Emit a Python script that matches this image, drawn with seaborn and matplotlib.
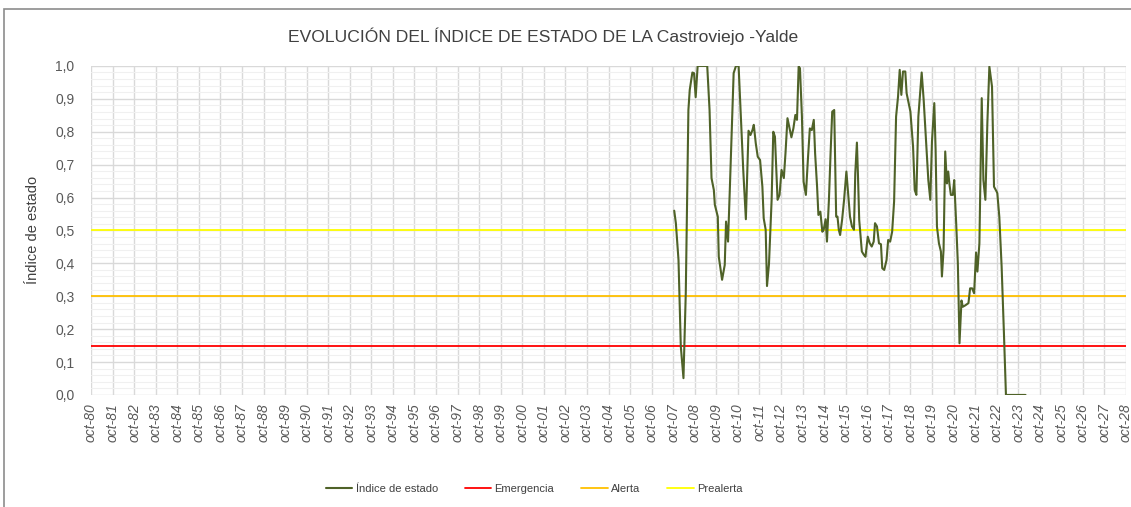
import matplotlib
matplotlib.use('Agg')
import matplotlib.pyplot as plt
import pandas as pd
import seaborn as sns
from matplotlib.patches import Rectangle
from matplotlib.ticker import FuncFormatter, MultipleLocator

# fecha en años decimales (oct-07 = 2007.75) e índice de estado
fechas = [
    2007.796, 2007.873, 2007.995, 2008.102, 2008.225, 2008.332, 2008.454, 2008.516,
    2008.638, 2008.715, 2008.791, 2008.883, 2009.327, 2009.435, 2009.526, 2009.634,
    2009.680, 2009.817, 2009.863, 2010.016, 2010.139, 2010.200, 2010.292, 2010.369,
    2010.552, 2010.660, 2010.782, 2010.905, 2010.997, 2011.119, 2011.242, 2011.333,
    2011.425, 2011.487, 2011.578, 2011.670, 2011.778, 2011.885, 2011.946, 2012.038,
    2012.099, 2012.191, 2012.314, 2012.390, 2012.467, 2012.589, 2012.681, 2012.773,
    2012.880, 2012.957, 2013.049,
    2013.231, 2013.323, 2013.414, 2013.490, 2013.567, 2013.628, 2013.719, 2013.796,
    2013.903, 2013.994, 2014.086, 2014.177, 2014.269, 2014.330, 2014.422, 2014.483,
    2014.574, 2014.666, 2014.727, 2014.819, 2014.880, 2014.971, 2015.048, 2015.124,
    2015.216, 2015.307, 2015.368, 2015.429, 2015.490, 2015.582, 2015.674, 2015.781,
    2015.857, 2015.948, 2016.040, 2016.132, 2016.193, 2016.269, 2016.315, 2016.376,
    2016.498, 2016.590, 2016.666, 2016.773, 2016.865, 2016.956, 2017.048, 2017.109,
    2017.200, 2017.292, 2017.384, 2017.445, 2017.536, 2017.643, 2017.719, 2017.811,
    2017.903, 2017.994, 2018.086, 2018.177, 2018.254, 2018.330, 2018.406, 2018.513,
    2018.574,
    2018.750, 2018.873, 2018.950, 2019.027, 2019.119, 2019.273, 2019.365, 2019.488,
    2019.581, 2019.673, 2019.750, 2019.858, 2019.919, 2019.981, 2020.073, 2020.165,
    2020.212, 2020.288, 2020.365, 2020.442, 2020.504, 2020.565, 2020.627, 2020.719,
    2020.781, 2020.873, 2020.950, 2021.027, 2021.119, 2021.181, 2021.288, 2021.442,
    2021.519, 2021.612, 2021.704, 2021.796, 2021.858, 2021.950, 2022.058, 2022.135,
    2022.227, 2022.319, 2022.412, 2022.535, 2022.627, 2022.750, 2022.781, 2022.873,
    2022.981, 2023.088, 2023.181, 2024.088,
]
indice = [
    0.560, 0.522, 0.410, 0.147, 0.051, 0.309, 0.866, 0.927,
    0.980, 0.978, 0.905, 1.000, 1.000, 0.866, 0.659, 0.623,
    0.578, 0.542, 0.420, 0.350, 0.395, 0.527, 0.466, 0.613,
    0.978, 1.000, 1.000, 0.816, 0.684, 0.534, 0.803, 0.790,
    0.805, 0.821, 0.765, 0.724, 0.714, 0.633, 0.537, 0.502,
    0.331, 0.398, 0.593, 0.800, 0.785, 0.593, 0.608, 0.684,
    0.659, 0.735, 0.841,
    0.783, 0.810, 0.851, 0.836, 0.998, 0.993, 0.846, 0.648,
    0.608, 0.714, 0.810, 0.805, 0.836, 0.735, 0.633, 0.547,
    0.557, 0.496, 0.502, 0.534, 0.466, 0.593, 0.735, 0.861,
    0.866, 0.542, 0.542, 0.502, 0.486, 0.532, 0.593, 0.679,
    0.618, 0.542, 0.512, 0.502, 0.674, 0.767, 0.674, 0.532,
    0.436, 0.426, 0.420, 0.481, 0.461, 0.451, 0.466, 0.522,
    0.512, 0.461, 0.458, 0.385, 0.380, 0.410, 0.471, 0.466,
    0.496, 0.588, 0.846, 0.907, 0.988, 0.912, 0.983, 0.983,
    0.917,
    0.861, 0.755, 0.623, 0.608, 0.846, 0.980, 0.897, 0.755,
    0.653, 0.593, 0.770, 0.887, 0.745, 0.512, 0.461, 0.436,
    0.360, 0.441, 0.740, 0.643, 0.679, 0.638, 0.608, 0.608,
    0.653, 0.522, 0.400, 0.157, 0.287, 0.268, 0.272, 0.279,
    0.324, 0.324, 0.309, 0.433, 0.375, 0.461, 0.902, 0.653,
    0.593, 0.826, 0.998, 0.937, 0.633, 0.618, 0.613, 0.542,
    0.390, 0.187, 0.000, 0.000,
]

umbrales = ['Emergencia', 'Alerta', 'Prealerta']
valores_umbral = [0.15, 0.30, 0.50]
colores_umbral = ['#FF0000', '#FFC000', '#FFFF00']

anios = list(range(1980, 2029))
etiquetas_x = ['oct-' + str(a)[-2:] for a in anios]

df = pd.DataFrame({'fecha': fechas, 'indice': indice})

sns.set_style('white')
plt.rcParams['font.family'] = ['Liberation Sans', 'DejaVu Sans']

fig = plt.figure(figsize=(11.31, 5.07), dpi=100)
ax = fig.add_axes([0.0805, 0.221, 0.9151, 0.649])

# marco del gráfico
fig.patches.append(Rectangle((0.0035, -0.2), 1.2, 1.182, transform=fig.transFigure,
                             fill=False, edgecolor='#8c8c8c', lw=1.2))

sns.lineplot(data=df, x='fecha', y='indice', ax=ax, color='#4F6228', lw=1.5,
             label='Índice de estado', zorder=4)
for nombre, v, c in zip(umbrales, valores_umbral, colores_umbral):
    ax.axhline(v, color=c, lw=1.3, label=nombre, zorder=3)

ax.set_xlim(1980.75, 2028.75)
ax.set_ylim(0, 1.0)
ax.set_xticks([a + 0.75 for a in anios])
ax.set_xticklabels(etiquetas_x, rotation=90, fontstyle='italic', fontsize=10, color='#595959')
ax.yaxis.set_major_locator(MultipleLocator(0.1))
ax.yaxis.set_minor_locator(MultipleLocator(0.02))
ax.yaxis.set_major_formatter(FuncFormatter(lambda v, p: f'{v:.1f}'.replace('.', ',')))
ax.tick_params(axis='y', labelsize=10, labelcolor='#595959', length=0, pad=12)
ax.tick_params(axis='x', length=0, pad=6)
ax.tick_params(axis='y', which='minor', length=0)

ax.grid(True, which='major', color='#d9d9d9', lw=1.0)
ax.grid(True, which='minor', axis='y', color='#f0f0f0', lw=0.8)
for s in ax.spines.values():
    s.set_visible(False)

ax.set_xlabel('')
ax.set_ylabel('Índice de estado', fontsize=10.5, color='#404040', labelpad=11)

fig.text(0.4806, 0.928, 'EVOLUCIÓN DEL ÍNDICE DE ESTADO DE LA Castroviejo -Yalde',
         ha='center', va='center', fontsize=12.6, color='#404040')

ax.legend(loc='center', bbox_to_anchor=(534 / 1131, 1 - 489 / 507),
          bbox_transform=fig.transFigure, ncol=4, frameon=False, fontsize=8,
          handlelength=2.4, columnspacing=2.4, handletextpad=0.3, labelcolor='#404040')

fig.savefig('out.png', dpi=100)
